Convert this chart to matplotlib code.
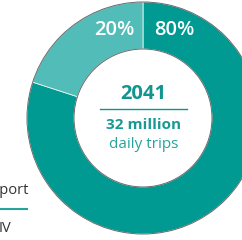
import matplotlib
matplotlib.use('Agg')
from matplotlib import pyplot as plt

shares = [80, 20]
share_labels = ['80%', '20%']
colors = ['#009a93', '#52bdb8']
year = '2041'
trips_line1 = '32 million'
trips_line2 = 'daily trips'
legend_texts = ['Public transport', 'IV']

W, H = 242, 240


def main():
    plt.rcParams['font.family'] = ['Open Sans', 'DejaVu Sans']
    fig = plt.figure(figsize=(W / 100, H / 100), dpi=100)
    ax = fig.add_axes([0, 0, 1, 1])

    cx, cy, r_out, r_in = 143, H - 118, 116, 69
    ax.pie(shares, colors=colors, startangle=90, counterclock=False,
           center=(cx, cy), radius=r_out, frame=True,
           wedgeprops=dict(width=r_out - r_in, edgecolor='#e8f4f3', linewidth=0.6))
    # thin grey rim on both edges
    for rad in (r_out, r_in):
        ax.add_patch(plt.Circle((cx, cy), rad, fill=False, ec='#6b6b6b', lw=0.7))
    ax.set_xlim(0, W)
    ax.set_ylim(0, H)
    ax.set_aspect('equal')
    ax.axis('off')

    ax.text(174, H - 30, share_labels[0], color='white', fontsize=14.5, fontweight='semibold',
            ha='center', va='center')
    ax.text(114, H - 30, share_labels[1], color='white', fontsize=14.5, fontweight='semibold',
            ha='center', va='center')

    ax.text(143.5, H - 94, year, color='#13958f', fontsize=14.5, fontweight='bold',
            ha='center', va='center')
    ax.plot([100, 187], [H - 109, H - 109], color='#13958f', lw=1.0)
    ax.text(144, H - 125, trips_line1, color='#189a93', fontsize=11, fontweight='bold',
            ha='center', va='center')
    ax.text(144, H - 144, trips_line2, color='#26a49c', fontsize=11,
            ha='center', va='center')

    ax.text(28, H - 190, legend_texts[0], color='#333333', fontsize=10.5,
            ha='right', va='center')
    ax.plot([0, 27], [H - 209, H - 209], color='#26a49c', lw=1.5)
    ax.text(11, H - 229, legend_texts[1], color='#333333', fontsize=10.5,
            ha='right', va='center')

    fig.savefig('out.png', dpi=100)


if __name__ == '__main__':
    main()
